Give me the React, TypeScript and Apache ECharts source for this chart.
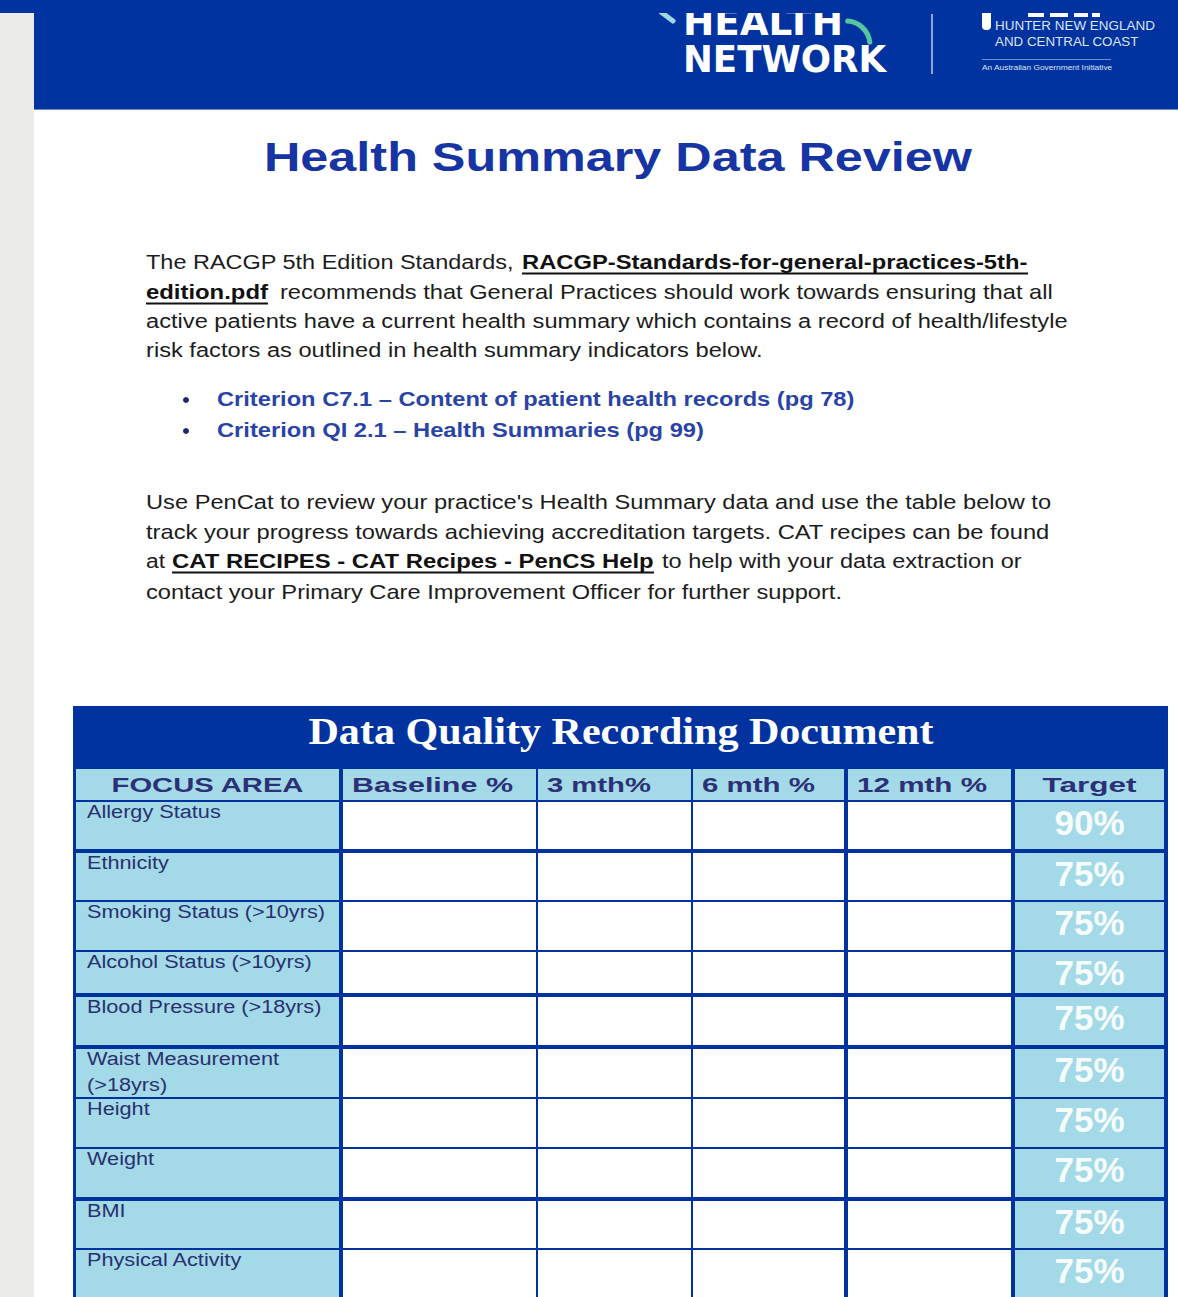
import React, { useEffect, useRef } from 'react';
import * as echarts from 'echarts';

// ---- content / data ----
const focusAreas = [
  'Allergy Status',
  'Ethnicity',
  'Smoking Status (>10yrs)',
  'Alcohol Status (>10yrs)',
  'Blood Pressure (>18yrs)',
  'Waist Measurement\n(>18yrs)',
  'Height',
  'Weight',
  'BMI',
  'Physical Activity',
];
const targets = [90, 75, 75, 75, 75, 75, 75, 75, 75, 75];
const columnHeaders = ['FOCUS AREA', 'Baseline %', '3 mth%', '6 mth %', '12 mth %', 'Target'];
const criteria = [
  'Criterion C7.1 – Content of patient health records (pg 78)',
  'Criterion QI 2.1 – Health Summaries (pg 99)',
];

// ---- layout constants ----
const BLUE = '#0033A0';
const LIGHT = '#A4DAE7';
const NAVY = '#283070';
const TEXT = '#1c1c1c';
const SANS = '"Liberation Sans", Arial, sans-serif';
const SERIF = '"Liberation Serif", "Times New Roman", serif';

const colLeft = [76, 343, 538, 693, 848, 1015];
const colWidth = [263, 193, 153, 151, 163, 149];
const headerTextWidth = [193, 161, 104, 113, 130, 94];
const rowH = [47, 47, 48, 41, 48, 48, 48, 48, 47, 60];
const rowGap = [4, 2, 2, 4, 4, 2, 2, 4, 2, 0];

let measureCtx: CanvasRenderingContext2D | null = null;
function measure(text: string, font: string) {
  if (!measureCtx) measureCtx = document.createElement('canvas').getContext('2d');
  if (!measureCtx) return text.length * 10;
  measureCtx.font = font;
  return measureCtx.measureText(text).width || 1;
}

function txt(
  text: string,
  x: number,
  y: number,
  font: string,
  fill: string,
  opts: { width?: number; align?: string; scale?: number; opacity?: number } = {}
) {
  let sx = 1;
  if (opts.width) sx = opts.width / measure(text, font);
  if (opts.scale) sx = opts.scale;
  const align = opts.align || 'left';
  return {
    type: 'text',
    x,
    y,
    scaleX: sx,
    silent: true,
    style: {
      text,
      font,
      fill,
      align,
      textAlign: align,
      verticalAlign: 'middle',
      textVerticalAlign: 'middle',
      opacity: opts.opacity == null ? 1 : opts.opacity,
    },
  };
}

function rect(x: number, y: number, w: number, h: number, fill: string, extra: any = {}) {
  return { type: 'rect', silent: true, shape: { x, y, width: w, height: h, ...(extra.shape || {}) }, style: { fill, ...(extra.style || {}) } };
}

function line(x1: number, y1: number, x2: number, y2: number, stroke: string, lw: number, extra: any = {}) {
  return { type: 'line', silent: true, shape: { x1, y1, x2, y2 }, style: { stroke, lineWidth: lw, ...extra } };
}

function buildElements() {
  const els: any[] = [];
  // page
  els.push(rect(0, 0, 1178, 1297, '#ffffff'));
  els.push(rect(0, 0, 34, 1297, '#EBEBEA'));
  els.push(rect(34, 0, 1144, 109, BLUE));
  els.push(line(34, 109.5, 1178, 109.5, '#6A88CC', 1));

  // logo left: HEALTH NETWORK
  const logoFont = `bold 37px "DejaVu Sans", ${SANS}`;
  els.push(txt('HEALTH', 683, 23, logoFont, '#ffffff', { width: 160 }));
  els.push(txt('NETWORK', 683, 59, logoFont, '#ffffff', { width: 203 }));
  els.push({
    type: 'arc',
    silent: true,
    shape: { cx: 846, cy: 45, r: 24, startAngle: -1.5, endAngle: -0.12, clockwise: true },
    style: { stroke: '#55C79E', lineWidth: 5, fill: null, lineCap: 'round' },
  });
  els.push(line(661, 12, 673, 21, '#9FD9E4', 5, { lineCap: 'round' }));
  els.push(line(932, 14, 932, 74, 'rgba(255,255,255,0.55)', 2));

  // logo right (cropped emblem pieces)
  els.push(rect(1028, 12, 16, 5, '#ffffff'));
  els.push(rect(1050, 12, 18, 5, '#ffffff'));
  els.push(rect(1074, 12, 14, 5, '#ffffff'));
  els.push(rect(1092, 12, 8, 5, '#ffffff'));
  els.push(rect(982, 11, 9, 19, '#ffffff', { shape: { r: [0, 0, 4, 4] } }));
  els.push(txt('HUNTER NEW ENGLAND', 995, 26, `13px ${SANS}`, '#DCE4F5', { width: 160 }));
  els.push(txt('AND CENTRAL COAST', 995, 42, `13px ${SANS}`, '#DCE4F5', { width: 144 }));
  els.push(line(982, 59.5, 1111, 59.5, 'rgba(255,255,255,0.45)', 1));
  els.push(txt('An Australian Government Initiative', 982, 68, `7px ${SANS}`, '#DCE4F5', { width: 131 }));

  // top strip overlay (crops the logo)
  els.push(rect(0, 0, 1178, 13, BLUE));

  // title
  els.push(txt('Health Summary Data Review', 264, 157, `bold 40px ${SANS}`, '#1634A4', { width: 708 }));

  // paragraph 1
  const pf = `21px ${SANS}`;
  const pb = `bold 21px ${SANS}`;
  els.push(txt('The RACGP 5th Edition Standards,', 146, 262, pf, TEXT, { width: 368 }));
  els.push(txt('RACGP-Standards-for-general-practices-5th-', 522, 262, pb, '#111111', { width: 506 }));
  els.push(line(522, 273.5, 1028, 273.5, '#111111', 2));
  els.push(txt('edition.pdf', 146, 292, pb, '#111111', { width: 122 }));
  els.push(line(146, 303.5, 268, 303.5, '#111111', 2));
  els.push(txt('recommends that General Practices should work towards ensuring that all', 280, 292, pf, TEXT, { width: 773 }));
  els.push(txt('active patients have a current health summary which contains a record of health/lifestyle', 146, 321, pf, TEXT, { width: 922 }));
  els.push(txt('risk factors as outlined in health summary indicators below.', 146, 350, pf, TEXT, { width: 617 }));

  // bullets
  const critWidths = [638, 487];
  criteria.forEach((c, i) => {
    const y = 399 + i * 31;
    els.push({ type: 'circle', silent: true, shape: { cx: 186, cy: y + 1, r: 3 }, style: { fill: '#1E2A66' } });
    els.push(txt(c, 217, y, `bold 21px ${SANS}`, '#2A44A6', { width: critWidths[i] }));
  });

  // paragraph 2
  els.push(txt('Use PenCat to review your practice\'s Health Summary data and use the table below to', 146, 502, pf, TEXT, { width: 906 }));
  els.push(txt('track your progress towards achieving accreditation targets. CAT recipes can be found', 146, 532, pf, TEXT, { width: 904 }));
  els.push(txt('at', 146, 561, pf, TEXT, { width: 19 }));
  els.push(txt('CAT RECIPES - CAT Recipes - PenCS Help', 172, 561, pb, '#111111', { width: 482 }));
  els.push(line(172, 572.5, 654, 572.5, '#111111', 2));
  els.push(txt('to help with your data extraction or', 662, 561, pf, TEXT, { width: 360 }));
  els.push(txt('contact your Primary Care Improvement Officer for further support.', 146, 592, pf, TEXT, { width: 696 }));

  // table
  els.push(rect(73, 706, 1095, 591, BLUE));
  els.push(txt('Data Quality Recording Document', 621, 731, `bold 38px ${SERIF}`, '#ffffff', { width: 625, align: 'center' }));

  // header row
  const headerTop = 769;
  const headerH = 31;
  const hf = `bold 20px ${SANS}`;
  columnHeaders.forEach((h, c) => {
    els.push(rect(colLeft[c], headerTop, colWidth[c], headerH, LIGHT));
    const centered = c === 0 || c === 5;
    const x = centered ? colLeft[c] + colWidth[c] / 2 : colLeft[c] + 9;
    els.push(txt(h, x, headerTop + 16, hf, '#2B3077', { width: headerTextWidth[c], align: centered ? 'center' : 'left' }));
  });

  // body rows
  const lf = `18px ${SANS}`;
  const labelScale = 238 / measure('Smoking Status (>10yrs)', lf);
  let top = headerTop + headerH + 2;
  focusAreas.forEach((name, r) => {
    const h = rowH[r];
    for (let c = 0; c < colLeft.length; c++) {
      els.push(rect(colLeft[c], top, colWidth[c], h, c === 0 || c === 5 ? LIGHT : '#ffffff'));
    }
    name.split('\n').forEach((ln, k) => {
      els.push(txt(ln, 87, top + 10 + k * 26, lf, NAVY, { scale: labelScale }));
    });
    els.push(
      txt(`${targets[r]}%`, colLeft[5] + colWidth[5] / 2, top + 20, `bold 35px ${SANS}`, '#ffffff', {
        align: 'center',
        opacity: 0.93,
      })
    );
    top += h + rowGap[r];
  });

  els.forEach((e, i) => {
    e.z2 = i;
  });
  return els;
}

export default function App() {
  const ref = useRef<HTMLDivElement>(null);
  useEffect(() => {
    if (!ref.current) return;
    const chart = echarts.init(ref.current, null, { renderer: 'svg' });
    chart.setOption({
      animation: false,
      backgroundColor: '#ffffff',
      graphic: { elements: buildElements() },
    });
    return () => chart.dispose();
  }, []);
  return (
    <div
      ref={ref}
      style={{ position: 'absolute', left: 0, top: 0, width: 1178, height: 1297, overflow: 'hidden' }}
    />
  );
}
